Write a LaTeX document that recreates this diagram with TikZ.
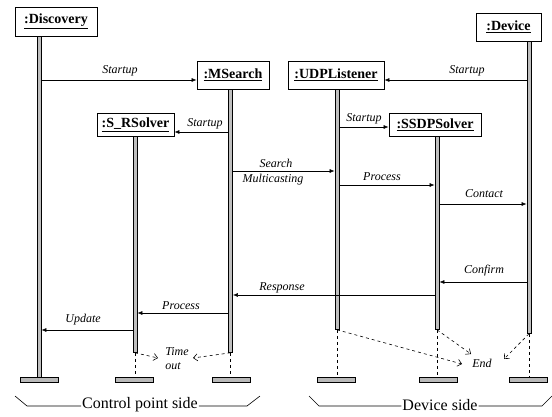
\documentclass[tikz,border=0pt]{standalone}
\usepackage{fontspec}
\setmainfont{Liberation Serif}
\usetikzlibrary{arrows.meta}
\begin{document}
\begin{tikzpicture}[x=1pt,y=-1pt,
 obj/.style={draw,line width=0.8pt,fill=white,inner sep=0pt,font=\fontsize{14}{16}\selectfont\bfseries},
 bar/.style={draw,line width=0.8pt,fill=gray!50,minimum width=4pt,inner sep=0pt,anchor=north},
 foot/.style={draw,line width=0.6pt,fill=gray!55,minimum width=38pt,minimum height=5pt,inner sep=0pt},
 msg/.style={line width=0.6pt,-{Latex[length=5pt,width=4pt]}},
 lbl/.style={font=\fontsize{12}{14}\selectfont\itshape,inner sep=1pt},
 ret/.style={dashed,line width=0.6pt,-{Straight Barb[length=4pt,width=7pt]}},
 life/.style={dashed,line width=0.6pt},
 side/.style={font=\fontsize{16}{18}\selectfont,inner sep=1pt},
 brace/.style={line width=0.6pt}]
\useasboundingbox (0,0) rectangle (552,416);

% activation bars
\node[bar,minimum height=341pt] (bD) at (39,36) {};
\node[bar,minimum height=216pt] (bS) at (135,136) {};
\node[bar,minimum height=263pt] (bM) at (230.5,89) {};
\node[bar,minimum height=240pt] (bU) at (337,89) {};
\node[bar,minimum height=193pt] (bP) at (437,136) {};
\node[bar,minimum height=292pt] (bV) at (529,41) {};

% objects
\node[obj,minimum width=82pt,minimum height=29pt] (oD) at (56,21.5) {\underline{:Discovery}};
\node[obj,minimum width=72pt,minimum height=28pt] (oM) at (233,75) {\underline{:MSearch}};
\node[obj,minimum width=77pt,minimum height=23pt] (oS) at (135.5,124.5) {\underline{:S\_RSolver}};
\node[obj,minimum width=65pt,minimum height=28pt] (oV) at (508.5,27) {\underline{:Device}};
\node[obj,minimum width=96pt,minimum height=28pt] (oU) at (336,75) {\underline{:UDPListener}};
\node[obj,minimum width=92pt,minimum height=23pt] (oP) at (435,124.5) {\underline{:SSDPSolver}};

% feet
\node[foot] (fD) at (39,379.5) {};
\node[foot] (fS) at (134,379.5) {};
\node[foot] (fM) at (231,379.5) {};
\node[foot] (fU) at (336.5,379.5) {};
\node[foot] (fP) at (438,379.5) {};
\node[foot] (fV) at (528.5,379.5) {};

% dashed lifeline tails
\draw[life] (bS.south) -- (bS.south |- fS.north);
\draw[life] (bM.south) -- (bM.south |- fM.north);
\draw[life] (bU.south) -- (bU.south |- fU.north);
\draw[life] (bP.south) -- (bP.south |- fP.north);
\draw[life] (bV.south) -- (bV.south |- fV.north);

% messages
\draw[msg] (bD.east |- 0,80) -- (oM.west |- 0,80);
\node[lbl] (l1) at (120,71) {Startup};
\draw[msg] (bV.west |- 0,80) -- (oU.east |- 0,80);
\node[lbl] (l2) at (467,71) {Startup};
\draw[msg] (bM.west |- 0,132) -- (oS.east |- 0,132);
\node[lbl] (l3) at (205,124) {Startup};
\draw[msg] (bU.east |- 0,127) -- (oP.west |- 0,127);
\node[lbl] (l4) at (364,119) {Startup};
\draw[msg] (bM.east |- 0,171) -- (bU.west |- 0,171);
\node[lbl] (l5) at (276,163) {Search};
\node[lbl] (l5b) at (273,180) {Multicasting};
\draw[msg] (bU.east |- 0,185) -- (bP.west |- 0,185);
\node[lbl] (l6) at (382,177) {Process};
\draw[msg] (bP.east |- 0,204) -- (bV.west |- 0,204);
\node[lbl] (l7) at (484,194) {Contact};
\draw[msg] (bV.west |- 0,282) -- (bP.east |- 0,282);
\node[lbl] (l8) at (484,271) {Confirm};
\draw[msg] (bP.west |- 0,295) -- (bM.east |- 0,295);
\node[lbl] (l9) at (282,288) {Response};
\draw[msg] (bM.west |- 0,313) -- (bS.east |- 0,313);
\node[lbl] (l10) at (181,306) {Process};
\draw[msg] (bS.west |- 0,330) -- (bD.east |- 0,330);
\node[lbl] (l11) at (83,320) {Update};

% time out / end
\node[lbl,align=left] (to) at (177,359) {Time\\out};
\coordinate (toL) at (158,358);
\coordinate (toR) at (193,358);
\draw[ret] (bS.south) -- (toL);
\draw[ret] (bM.south) -- (toR);
\node[lbl] (en) at (482,363) {End};
\coordinate (enU) at (462,364);
\coordinate (enP) at (471,354);
\coordinate (enV) at (504,359);
\draw[ret] (bU.south) -- (enU);
\draw[ret] (bP.south) -- (enP);
\draw[ret] (bV.south) -- (enV);

% side labels
\node[side] (cps) at (140,405) {Control point side};
\coordinate (c1) at (15,396);
\coordinate (c2) at (27,406);
\coordinate (c3) at (247,406);
\coordinate (c4) at (260,396);
\draw[brace] (c1) -- (c2) -- (c2 -| cps.west);
\draw[brace] (c3 -| cps.east) -- (c3) -- (c4);
\node[side] (ds) at (440,405) {Device side};
\coordinate (d1) at (309,396);
\coordinate (d2) at (319,406);
\coordinate (d3) at (542,406);
\coordinate (d4) at (552,396);
\draw[brace] (d1) -- (d2) -- (d2 -| ds.west);
\draw[brace] (d3 -| ds.east) -- (d3) -- (d4);
\end{tikzpicture}
\end{document}
